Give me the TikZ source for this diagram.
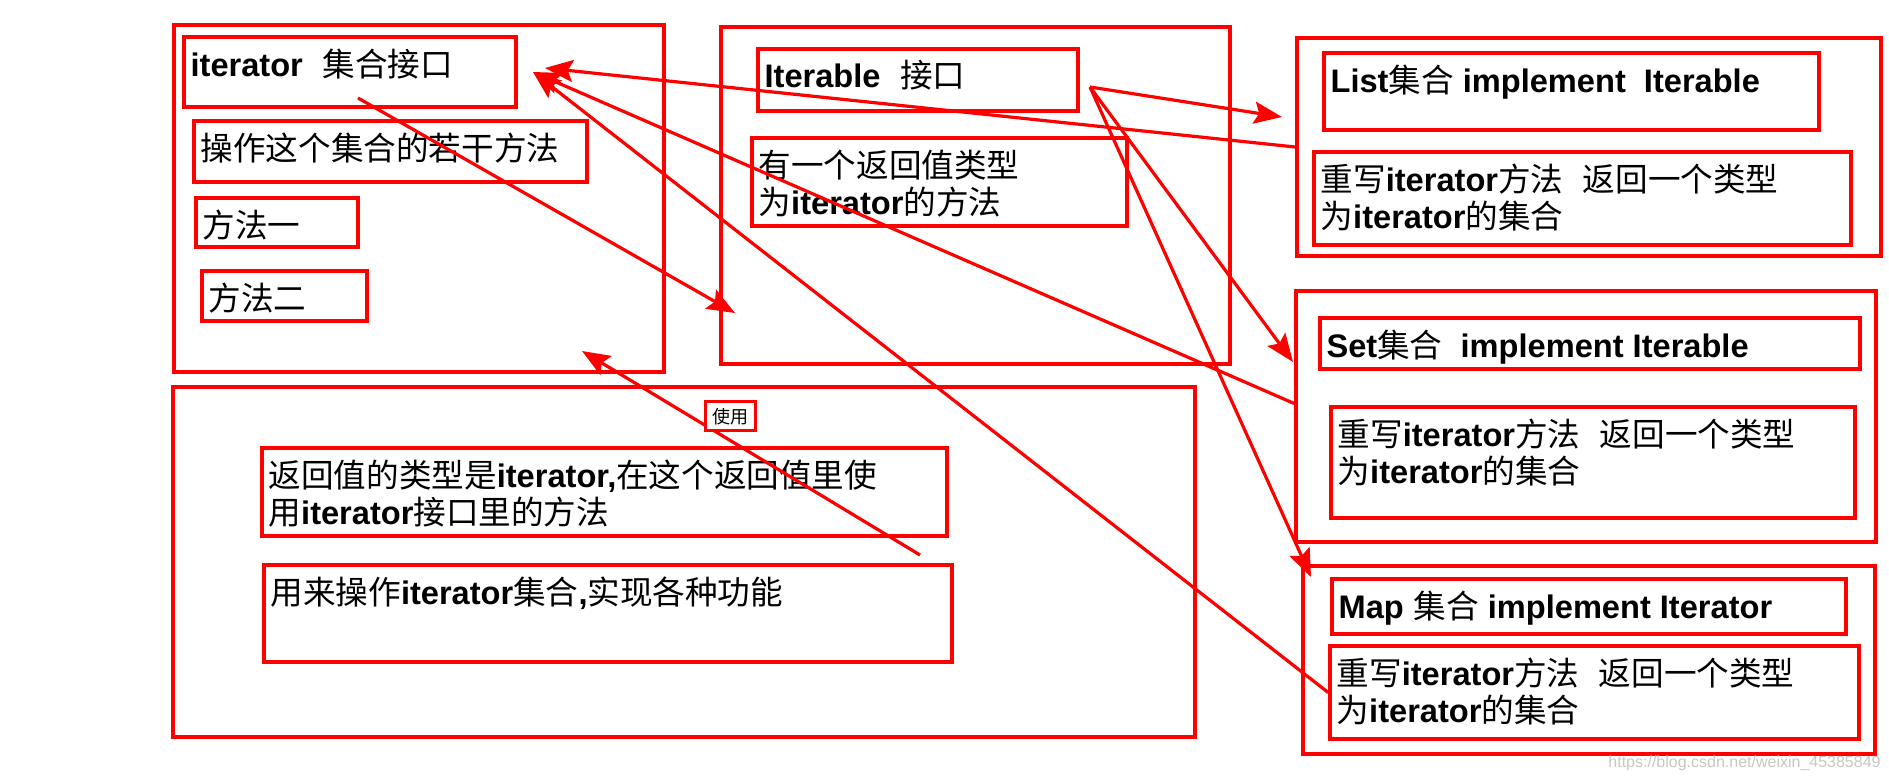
\documentclass[tikz,border=0pt]{standalone}
\usepackage{fontspec}
\setmainfont{Liberation Sans}
\newfontfamily\cjk{Noto Sans CJK SC}
\usepackage{tikz}
\usetikzlibrary{arrows.meta,fit,shadows}
\definecolor{boxred}{RGB}{255,0,0}
\newcommand\lat[1]{{\normalfont\bfseries #1}}
\tikzset{
  panel/.style={draw=boxred,line width=1.8pt,fill=white,inner sep=0pt,
    drop shadow={shadow xshift=1.2pt,shadow yshift=-1.2pt,opacity=.3,fill=black}},
  card/.style={panel},
  txt/.style={anchor=north west,inner xsep=4pt,inner ysep=6.5pt,align=left,
    font=\cjk\fontsize{16.3pt}{18.5pt}\selectfont},
  arr/.style={-{Stealth[length=14pt,width=11pt,inset=2.5pt]},line width=1.6pt,draw=boxred},
  tag/.style={draw=boxred,line width=1.4pt,fill=white,minimum width=25pt,minimum height=14.5pt,
    inner sep=0pt,font=\cjk\fontsize{9pt}{10pt}\selectfont}
}
\begin{document}
\begin{tikzpicture}[x=0.5pt,y=-0.5pt]
  \path[use as bounding box,fill=white] (0,0) rectangle (1889,782);

  % iterator interface
  \node[panel,fit={(174,25) (664,372)}] (P1) {};
  \node[card,fit={(184,37) (516,107)},label={[txt]north west:{\lat{iterator}\hspace{.6em}集合接口}}] (itf) {};
  \node[card,fit={(194,121) (587,182)},label={[txt]north west:{操作这个集合的若干方法}}] (ops) {};
  \node[card,fit={(196,198) (358,247)},label={[txt]north west:{方法一}}] (m1) {};
  \node[card,fit={(202,271) (367,321)},label={[txt]north west:{方法二}}] (m2) {};

  % Iterable interface
  \node[panel,fit={(721,27) (1230,364)}] (P2) {};
  \node[card,fit={(758,49) (1078,111)},label={[txt]north west:{\lat{Iterable}\hspace{.6em}接口}}] (itb) {};
  \node[card,fit={(752,138) (1127,226)},label={[txt]north west:{有一个返回值类型\\为\lat{iterator}的方法}}] (itbm) {};

  % List / Set / Map
  \node[panel,fit={(1297,38) (1881,256)}] (P3) {};
  \node[card,fit={(1324,53) (1819,130)},label={[txt]north west:{\lat{List}集合\lat{\ implement\ \ Iterable}}}] (list) {};
  \node[card,fit={(1314,152) (1851,245)},label={[txt]north west:{重写\lat{iterator}方法\hspace{.6em}返回一个类型\\为\lat{iterator}的集合}}] (listimp) {};

  \node[panel,fit={(1296,291) (1876,542)}] (P4) {};
  \node[card,fit={(1320,318) (1860,369)},label={[txt]north west:{\lat{Set}集合\lat{\ \ implement Iterable}}}] (set) {};
  \node[card,fit={(1331,407) (1855,518)},label={[txt]north west:{重写\lat{iterator}方法\hspace{.6em}返回一个类型\\为\lat{iterator}的集合}}] (setimp) {};

  \node[panel,fit={(1303,566) (1875,754)}] (P5) {};
  \node[card,fit={(1332,579) (1846,634)},label={[txt]north west:{\lat{Map}\hspace{.3em}集合\lat{\ implement Iterator}}}] (map) {};
  \node[card,fit={(1330,646) (1859,739)},label={[txt]north west:{重写\lat{iterator}方法\hspace{.6em}返回一个类型\\为\lat{iterator}的集合}}] (mapimp) {};

  % usage
  \node[panel,fit={(173,387) (1195,737)}] (P6) {};
  \node[card,fit={(262,448) (947,536)},label={[txt]north west:{返回值的类型是\lat{iterator,}在这个返回值里使\\用\lat{iterator}接口里的方法}}] (ret) {};
  \node[card,fit={(264,565) (952,662)},label={[txt]north west:{用来操作\lat{iterator}集合\lat{,}实现各种功能}}] (work) {};

  % arrow ends
  \coordinate (itf-in1) at (545,68);
  \coordinate (itf-in2) at (533,72);
  \coordinate (itf-out) at (358,98);
  \coordinate (P2-in) at (735,313);
  \coordinate (ret-out) at (920,555);
  \coordinate (P1-in) at (582,351);
  \coordinate (itb-out) at (1090,87);
  \coordinate (P3-in) at (1282,117);
  \coordinate (P4-in) at (1293,362);
  \coordinate (P5-in) at (1311,577);

  \draw[arr] (P3.west) -- (itf-in1);
  \draw[arr] ([yshift=6.5pt]P4.west) -- (itf-in2);
  \draw[arr] (mapimp.west) -- (itf-in2);
  \draw[arr] (itf-out) -- (P2-in);
  \draw[arr] (ret-out) -- node[tag,pos=.68,xshift=20pt] (use) {使用} (P1-in);
  \draw[arr] (itb-out) -- (P3-in);
  \draw[arr] (itb-out) -- (P4-in);
  \draw[arr] (itb-out) -- (P5-in);

  \node[anchor=west,inner sep=0pt,text=black!22,font=\fontsize{8pt}{9pt}\selectfont] (wm) at (1608,763) {https://blog.csdn.net/weixin\_45385849};
\end{tikzpicture}
\end{document}
